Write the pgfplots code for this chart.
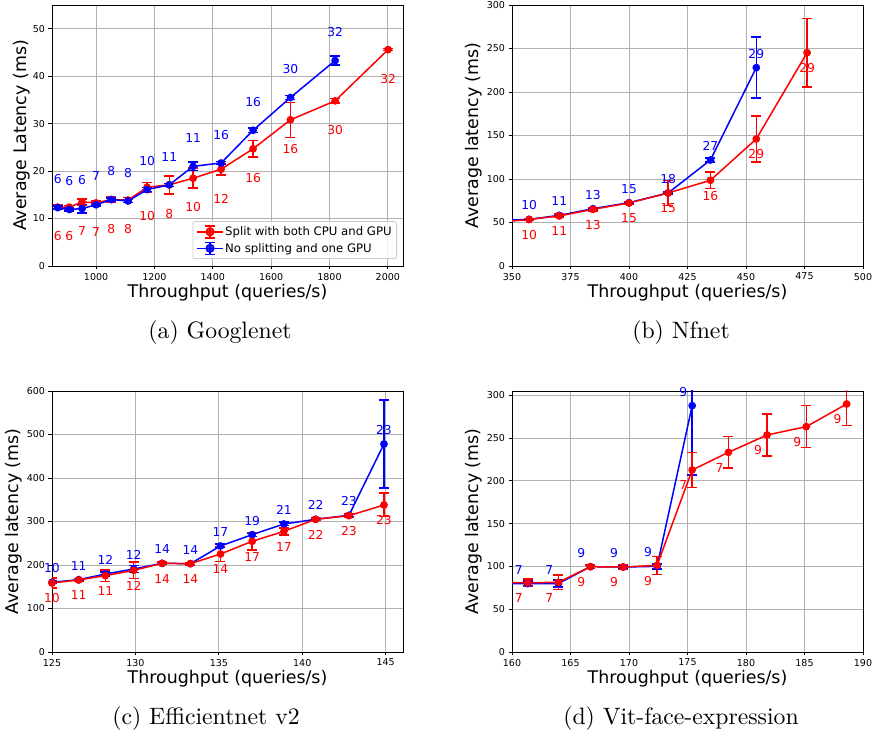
\documentclass[border=0pt]{standalone}
\usepackage{fontspec}
\usepackage{pgfplots}
\usepackage{pgfplotstable}
\pgfplotsset{compat=1.18}
\newfontfamily\dvs{DejaVu Sans}
\newfontfamily\capfont{lmroman10-regular.otf}
\definecolor{gridgray}{HTML}{B0B0B0}
\definecolor{leggray}{HTML}{CCCCCC}

% (a) Googlenet
\pgfplotstableread{
x y e l
868.6 12.4 0.5 6
908.6 12.4 0.4 6
952.0 13.5 0.6 7
1000.0 13.3 0.4 7
1052.6 14.0 0.5 8
1109.7 13.9 0.5 8
1174.9 16.6 1.0 10
1251.0 17.1 1.9 8
1332.6 18.5 2.1 10
1428.6 20.4 1.2 12
1538.3 24.7 1.7 16
1666.3 30.8 3.7 16
1819.4 34.8 0.5 30
2001.0 45.6 0.2 32
}\aRed
\pgfplotstableread{
x y e l
868.6 12.3 0.3 6
908.6 11.9 0.3 6
952.0 12.1 0.9 6
1000.0 12.9 0.3 7
1052.6 14.0 0.3 8
1109.7 13.7 0.3 8
1174.9 16.1 0.4 10
1251.0 17.1 0.3 11
1332.6 21.0 0.9 11
1428.6 21.7 0.3 16
1538.3 28.6 0.5 16
1666.3 35.5 0.4 30
1819.4 43.3 0.9 32
}\aBlue
% (b) Nfnet
\pgfplotstableread{
x y e l
357.3 53.6 1.0 10
370.2 58.2 1.5 11
384.6 65.9 1.0 13
400.0 72.8 1.0 15
416.7 83.9 1.0 18
434.8 121.8 2.5 27
454.4 228.0 35.0 29
}\bBlue
\pgfplotstableread{
x y e l
357.3 53.4 1.0 10
370.2 57.5 2.0 11
384.6 65.1 2.0 13
400.0 72.4 1.5 15
416.7 83.9 14.5 15
434.8 98.5 9.4 16
454.4 146.0 26.5 29
476.1 245.2 39.3 29
}\bRed
% (c) Efficientnet v2
\pgfplotstableread{
x y e l
125.0 160.2 3 10
126.6 166.3 3 11
128.2 179.3 5 12
129.9 190.8 8 12
131.6 203.8 3 14
133.3 203.1 3 14
135.1 243.7 4 17
137.0 269.7 4 19
138.9 294.3 4 21
140.8 305.0 3 22
142.8 314.2 3 23
144.9 478.2 101 23
}\cBlue
\pgfplotstableread{
x y e l
125.0 158.6 12 10
126.6 165.5 4 11
128.2 175.5 13 11
129.9 187.7 19 12
131.6 203.8 3 14
133.3 203.1 3 14
135.1 225.3 17 14
137.0 254.4 20 17
138.9 277.4 8 17
140.8 305.0 3 22
142.8 313.4 4 23
144.9 338.0 27 23
}\cRed
% (d) Vit-face-expression
\pgfplotstableread{
x y e l
161.34 79.9 3 7
163.96 79.9 4 7
166.7 99.7 2 9
169.5 99.3 2 9
172.4 100.1 3 9
175.4 287.9 81 9
}\dBlue
\pgfplotstableread{
x y e l
161.34 81.0 4.3 7
163.96 81.4 8.4 7
166.7 99.7 2 9
169.5 99.3 3 9
172.4 101.3 10.5 9
175.4 212.7 20.3 7
178.5 233.3 18.5 7
181.8 253.6 24.4 9
185.15 263.3 24.5 9
188.6 289.8 25.3 9
}\dRed

\pgfplotsset{
  mpl/.style={
    scale only axis, width=351pt, height=261pt,
    anchor=south west,
    axis line style={line width=0.9pt, black},
    grid=major, grid style={line width=0.9pt, color=gridgray},
    tick pos=left, tick align=outside, major tick length=3.5pt,
    every tick/.style={line width=0.9pt, black},
    tick label style={font=\dvs\fontsize{9.5}{10}\selectfont},
    /pgf/number format/assume math mode=true,
    /pgf/number format/1000 sep={},
    scaled ticks=false,
    label style={font=\dvs\fontsize{17.4}{20}\selectfont},
    xlabel={Throughput (queries/s)},
    xlabel style={at={(axis description cs:0.5,-0.1034)}, anchor=center},
    ylabel style={at={(axis description cs:-0.110,0.5)}, anchor=center},
  },
  ser/.style={color=#1, line width=1.5pt, mark=*, mark size=3.1pt,
    mark options={solid, fill=#1, draw=#1, line width=1.5pt},
    /pgfplots/error bars/y dir=both, /pgfplots/error bars/y explicit,
    /pgfplots/error bars/error bar style={line width=1.5pt, #1},
    /pgfplots/error bars/error mark options={line width=1.5pt, mark size=5pt, #1, rotate=90}},
  lab/.style n args={3}{nodes near coords, point meta=explicit symbolic,
    every node near coord/.append style={font=\dvs\fontsize{12.3}{14}\selectfont,
      color=#1, anchor=center, yshift=#2, xshift=#3}},
  ebleg/.style={legend image code/.code={
    \draw[#1, line width=1.5pt] (0pt,0pt) -- (25.7pt,0pt);
    \draw[#1, line width=1.5pt] (12.85pt,-6pt) -- (12.85pt,6pt)
         (7.85pt,-6pt) -- (17.85pt,-6pt) (7.85pt,6pt) -- (17.85pt,6pt);
    \fill[#1] (12.85pt,0pt) circle (3.8pt);}},
}

\begin{document}
\begin{tikzpicture}
\useasboundingbox (0,0) rectangle (872pt,735pt);

% ---------- (a)
\begin{axis}[mpl, at={(52pt,469pt)},
  xmin=849, xmax=2052, ymin=0, ymax=55,
  xtick={1000,1200,...,2000}, ytick={0,10,...,50},
  ylabel={Average Latency (ms)},
  ylabel style={at={(axis description cs:-0.0863,0.5)}},
  legend cell align=left,
  legend style={at={(1,0)}, anchor=south east, xshift=-6pt, yshift=7pt,
    font=\dvs\fontsize{11.7}{13}\selectfont, draw=leggray, line width=0.8pt,
    rounded corners=2pt, fill=white, fill opacity=0.8, text opacity=1,
    inner xsep=3.5pt, inner ysep=3.5pt, row sep=3pt,
    nodes={inner sep=1.5pt}}]
\addplot+[ser=red, ebleg=red, lab={red}{-29.3pt}{0pt}]
  table[x=x, y=y, y error=e, meta=l] {\aRed};
\addlegendentry{Split with both CPU and GPU}
\addplot+[ser=blue, ebleg=blue, lab={blue}{28.3pt}{0pt}]
  table[x=x, y=y, y error=e, meta=l] {\aBlue};
\addlegendentry{No splitting and one GPU}
\end{axis}

% ---------- (b)
\begin{axis}[mpl, at={(512pt,469pt)},
  xmin=350, xmax=500, ymin=0, ymax=300,
  xtick={350,375,...,500}, ytick={0,50,...,300},
  ylabel={Average latency (ms)}]
\addplot[forget plot, blue, line width=1.5pt] coordinates {(343.0,52.2) (357.3,53.6)};
\addplot[forget plot, red, line width=1.5pt] coordinates {(343.0,50.0) (357.3,53.4)};
\addplot+[ser=blue, lab={blue}{14pt}{0pt}]
  table[x=x, y=y, y error=e, meta=l] {\bBlue};
\addplot+[ser=red, lab={red}{-15.3pt}{0pt}]
  table[x=x, y=y, y error=e, meta=l] {\bRed};
\end{axis}

% ---------- (c)
\begin{axis}[mpl, at={(52pt,83pt)},
  xmin=125, xmax=146.04, ymin=0, ymax=600,
  xtick={125,130,...,145}, ytick={0,100,...,600},
  ylabel={Average latency (ms)}]
\addplot+[ser=blue, lab={blue}{14pt}{0pt}]
  table[x=x, y=y, y error=e, meta=l] {\cBlue};
\addplot+[ser=red, lab={red}{-15.3pt}{0pt}]
  table[x=x, y=y, y error=e, meta=l] {\cRed};
\end{axis}

% ---------- (d)
\begin{axis}[mpl, at={(512pt,83pt)},
  xmin=160, xmax=190, ymin=0, ymax=305,
  xtick={160,165,...,190}, ytick={0,50,...,300},
  ylabel={Average latency (ms)}]
\addplot[forget plot, blue, line width=1.5pt] coordinates {(158.0,79.5) (161.34,79.9)};
\addplot[forget plot, red, line width=1.5pt] coordinates {(158.0,81.5) (161.34,81.0)};
\addplot+[ser=blue, lab={blue}{14pt}{-9pt}]
  table[x=x, y=y, y error=e, meta=l] {\dBlue};
\addplot+[ser=red, lab={red}{-15.3pt}{-9pt}]
  table[x=x, y=y, y error=e, meta=l] {\dRed};
\end{axis}

% ---------- captions
\node[anchor=base, font=\capfont\fontsize{23.7}{28}\selectfont] at (220pt,396pt) {(a) Googlenet};
\node[anchor=base, font=\capfont\fontsize{23.7}{28}\selectfont] at (681pt,396pt) {(b) Nfnet};
\node[anchor=base, font=\capfont\fontsize{23.7}{28}\selectfont] at (206pt,10pt) {(c) Efficientnet v2};
\node[anchor=base, font=\capfont\fontsize{23.7}{28}\selectfont] at (681pt,10pt) {(d) Vit-face-expression};
\end{tikzpicture}
\end{document}
